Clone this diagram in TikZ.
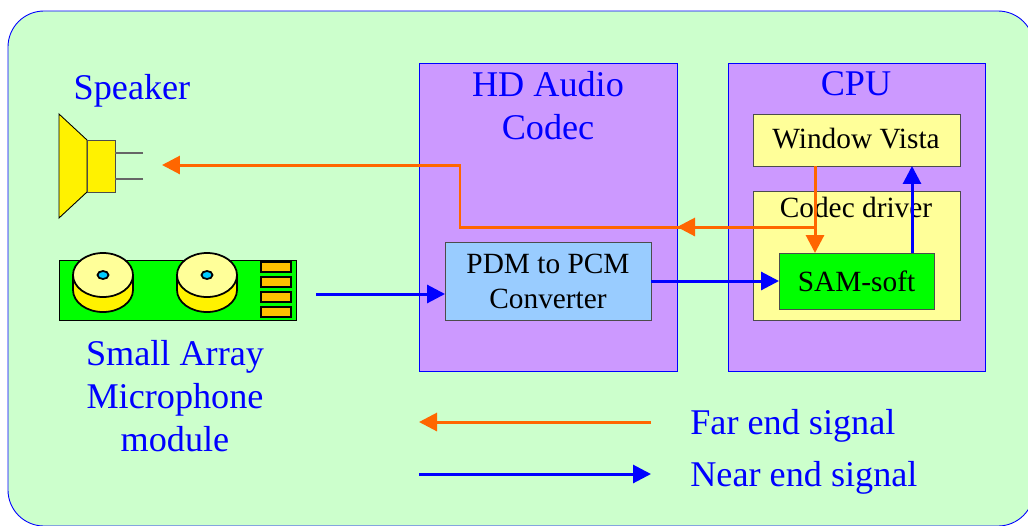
\documentclass[tikz,border=0pt]{standalone}
\usepackage{fontspec}
\setmainfont{Liberation Serif}
\definecolor{panelgreen}{HTML}{CCFFCC}
\definecolor{boxpurple}{HTML}{CC99FF}
\definecolor{softyellow}{HTML}{FFFF99}
\definecolor{lightblue}{HTML}{99CCFF}
\definecolor{farorange}{HTML}{FF6600}
\definecolor{padorange}{HTML}{FFC000}
\definecolor{holeblue}{HTML}{00CCFF}
\usetikzlibrary{arrows.meta,positioning,calc}

\begin{document}
\begin{tikzpicture}[x=0.02cm,y=-0.02cm,
    blockn/.style={draw=black!70, line width=0.5pt, inner sep=0pt, outer sep=0pt, align=center, font=\fontsize{16.7}{20}\selectfont},
    groupn/.style={draw=blue, line width=0.5pt, fill=boxpurple, inner sep=0pt, outer sep=0pt},
    bluetxt/.style={text=blue, align=center, inner sep=0pt, font=\fontsize{20.6}{24.5}\selectfont},
    far/.style={farorange, line width=1.7pt, -{Triangle[length=0.36cm,width=0.36cm]}},
    near/.style={blue, line width=1.7pt, -{Triangle[length=0.36cm,width=0.36cm]}},
    part/.style={draw=black, line width=1pt},
]
    \useasboundingbox (0,0) rectangle (1028,525);
    \fill[panelgreen, draw=blue, line width=0.5pt, rounded corners=0.72cm] (8,11) rectangle (1034,526);

    % speaker
    \draw[fill=yellow, draw=black, line width=0.5pt] (59,114) -- (87,140) -- (87,192) -- (59,218) -- cycle;
    \node[blockn, fill=yellow, minimum width=0.56cm, minimum height=1.04cm] (coil) at (101,166) {};
    \coordinate (wirea) at (143,153);
    \coordinate (wireb) at (143,179);
    \draw[black!60, line width=0.7pt] (wirea) -- (wirea -| coil.east);
    \draw[black!60, line width=0.7pt] (wireb) -- (wireb -| coil.east);
    \node[bluetxt] (speakertxt) at (132,91) {Speaker};

    % microphone module
    \node[draw=black, line width=0.5pt, fill=green, minimum width=4.74cm, minimum height=1.2cm, inner sep=0pt, outer sep=0pt] (board) at (177.5,290) {};
    \foreach \mx in {103,207}{
        \draw[part, fill=yellow] (\mx-30,275) -- (\mx-30,290) arc[start angle=180, end angle=360, x radius=30, y radius=-22] -- (\mx+30,275) -- cycle;
        \draw[part, fill=softyellow] (\mx,275) ellipse[x radius=30, y radius=22];
        \draw[part, fill=holeblue] (\mx,275) ellipse[x radius=5.5, y radius=4];
    }
    \foreach \py in {267,282,297,312}{
        \draw[part, fill=padorange] (261,\py-5) rectangle (291,\py+5);
    }
    \node[bluetxt] (micertxt) at (175,396) {Small Array\\Microphone\\module};

    % codec and cpu
    \node[groupn, minimum width=5.16cm, minimum height=6.16cm] (codec) at (548,217) {};
    \node[groupn, minimum width=5.14cm, minimum height=6.16cm] (cpu) at (856.5,217) {};
    \node[bluetxt] (codectxt) at (548,106) {HD Audio\\Codec};
    \node[bluetxt] (cputxt) at (856,84) {CPU};
    \node[blockn, fill=lightblue, minimum width=4.12cm, minimum height=1.56cm] (pdm) at (548,281) {PDM to PCM\\Converter};
    \node[blockn, fill=softyellow, minimum width=4.14cm, minimum height=1.04cm] (vista) at (856.5,140) {};
    \node[font=\fontsize{16.7}{20}\selectfont, inner sep=0pt] (vistatxt) at (856,139) {Window Vista};
    \node[blockn, fill=softyellow, minimum width=4.14cm, minimum height=2.58cm] (driver) at (856.5,255.5) {};
    \node[font=\fontsize{16.7}{20}\selectfont, inner sep=0pt] (drivertxt) at (856,207) {Codec driver};
    \node[blockn, fill=green, minimum width=3.1cm, minimum height=1.12cm] (sam) at (856.5,281) {SAM-soft};

    % signal paths
    \coordinate (spk) at (162,165);
    \coordinate (mic) at (316,294);
    \coordinate (jn) at (815,227);
    \coordinate (midarrow) at (677,227);
    \coordinate (samup) at (912,253);
    \draw[far] (vista.south -| jn) -- (sam.north -| jn);
    \draw[far] (jn) -- (460,227) -- (460,165) -- (spk);
    \draw[far] (jn) -- (midarrow);
    \draw[near] (mic) -- (mic -| pdm.west);
    \draw[near] (pdm.east) -- (sam.west);
    \draw[near] (samup) -- (samup |- vista.south);

    % legend
    \coordinate (farr) at (651,422);
    \coordinate (farl) at (419,422);
    \coordinate (nearl) at (419,474);
    \coordinate (nearr) at (651,474);
    \draw[far] (farr) -- (farl);
    \draw[near] (nearl) -- (nearr);
    \node[bluetxt, anchor=west] (fartxt) at (690,426) {Far end signal};
    \node[bluetxt, anchor=west] (neartxt) at (690,478) {Near end signal};
\end{tikzpicture}
\end{document}
